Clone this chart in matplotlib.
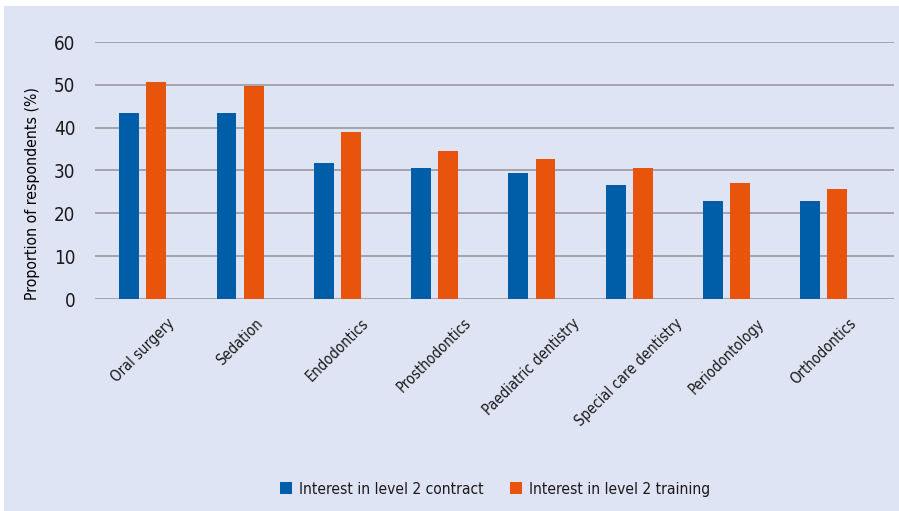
import matplotlib.pyplot as plt
import numpy as np
from matplotlib.patches import Rectangle

categories = ['Oral surgery', 'Sedation', 'Endodontics', 'Prosthodontics',
              'Paediatric dentistry', 'Special care dentistry', 'Periodontology', 'Orthodontics']
contract = [43.5, 43.5, 31.8, 30.7, 29.5, 26.7, 22.9, 22.9]
training = [50.6, 49.8, 39.1, 34.5, 32.6, 30.7, 27.0, 25.6]
series_names = ['Interest in level 2 contract', 'Interest in level 2 training']
yticks = [0, 10, 20, 30, 40, 50, 60]

BG = '#dfe4f4'
BLUE = '#005ea8'
ORANGE = '#e8540c'
GRID = '#a4a4ac'

plt.rcParams['font.family'] = ['DejaVu Sans']
plt.rcParams['font.stretch'] = 'condensed'
plt.rcParams['text.color'] = '#1a1a1a'

fig = plt.figure(figsize=(8.99, 5.11), dpi=100)
fig.patch.set_facecolor('white')
# lavender panel, leaving a thin white strip at top and left
fig.patches.append(Rectangle((4 / 899, 0), 1, 1 - 6 / 511, transform=fig.transFigure,
                             facecolor=BG, edgecolor='none', zorder=-10))

ax = fig.add_axes([95 / 899, 1 - 299 / 511, 799 / 899, 257 / 511])
ax.set_facecolor('none')

x = np.arange(len(categories))
w = 0.205
off = 0.139
ax.bar(x - off, contract, width=w, color=BLUE, label=series_names[0], zorder=3)
ax.bar(x + off, training, width=w, color=ORANGE, label=series_names[1], zorder=3)

ax.set_xlim(-0.49, 7.72)
ax.set_ylim(0, 60)
ax.set_yticks(yticks)
ax.yaxis.grid(True, color=GRID, linewidth=1.4, zorder=1)
ax.set_axisbelow(True)
for s in ax.spines.values():
    s.set_visible(False)

ax.tick_params(axis='y', length=0, pad=14, labelsize=13.5, labelcolor='#1a1a1a')
ax.tick_params(axis='x', length=0, pad=12, labelsize=10.6, labelcolor='#1a1a1a')
ax.set_xticks(x)
ax.set_xticklabels(categories, rotation=45, ha='center')

ax.set_ylabel('Proportion of respondents (%)', fontsize=11.3)
ax.yaxis.set_label_coords(-55 / 799, 0.41)

fig.legend(loc='center', bbox_to_anchor=(495 / 899, 1 - 489 / 511), ncol=2, frameon=False,
           fontsize=11.2, handlelength=0.75, handleheight=0.75, handletextpad=0.45,
           columnspacing=1.7)

fig.savefig('out.png', dpi=100, facecolor=fig.get_facecolor())
